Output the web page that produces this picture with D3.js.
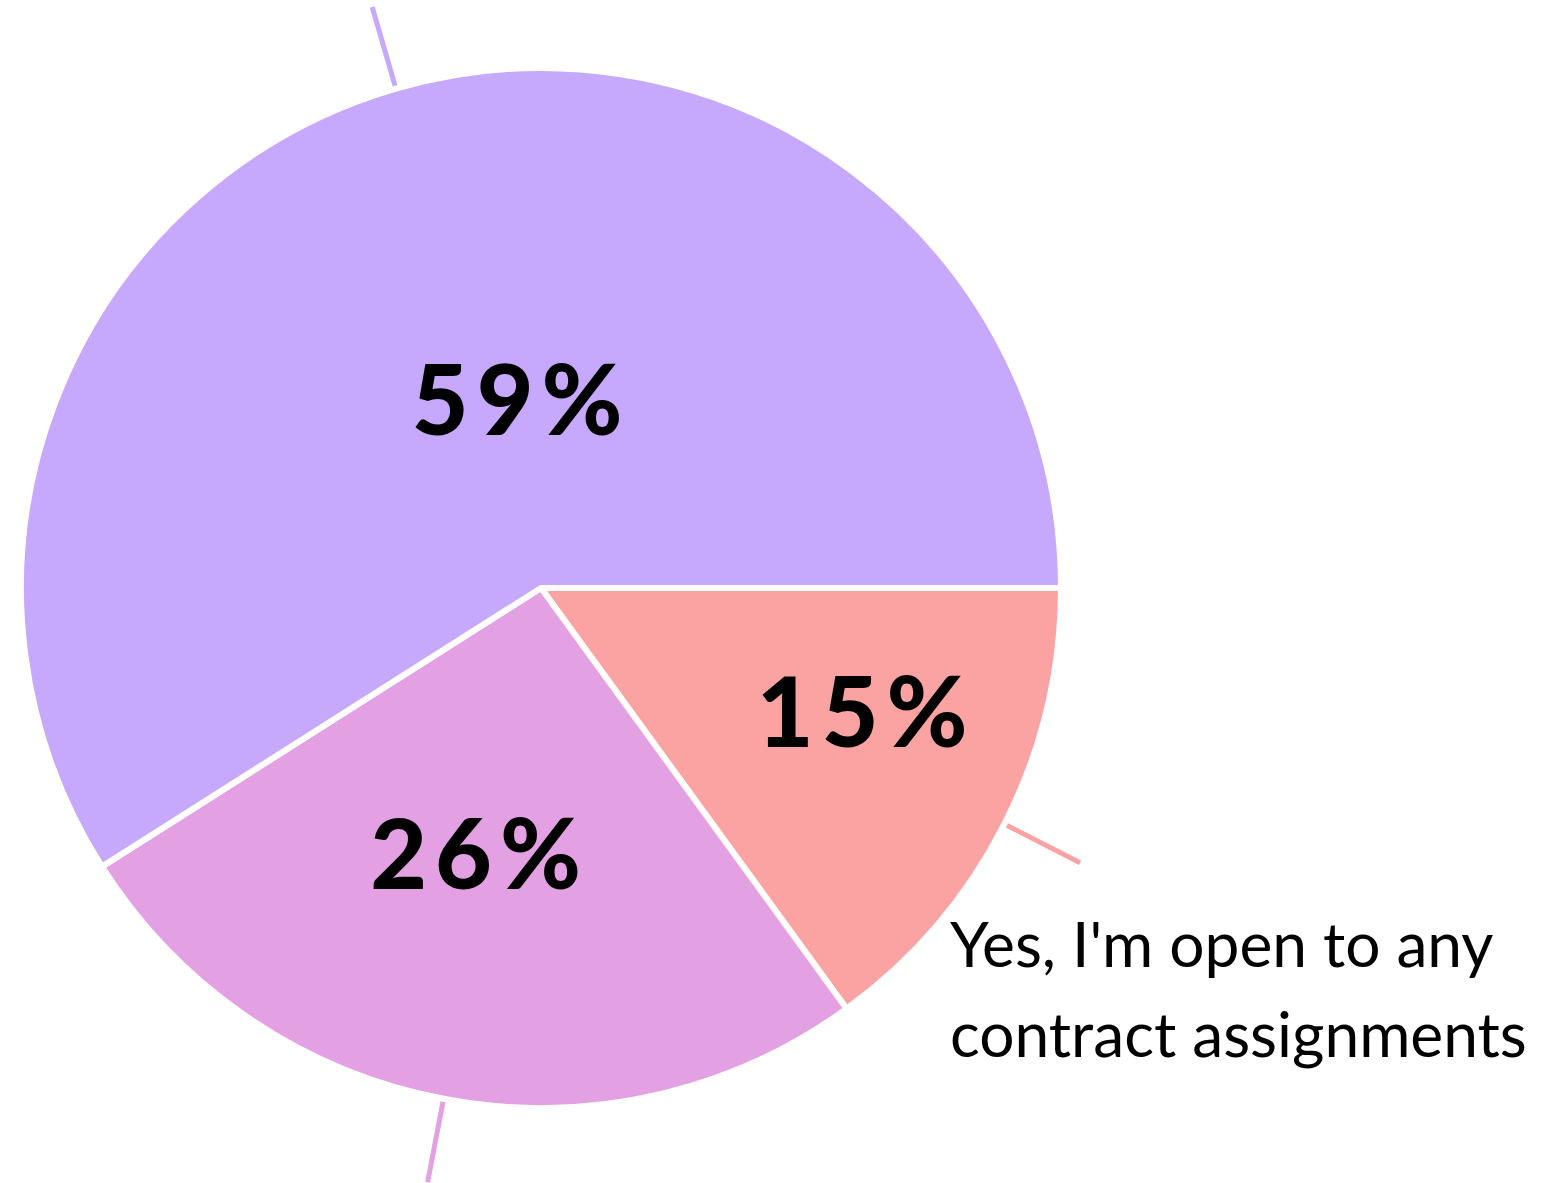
<!DOCTYPE html>
<html>
<head>
<meta charset="utf-8">
<script src="https://cdn.jsdelivr.net/npm/d3@7"></script>
<style>
  html, body { margin: 0; padding: 0; background: #fff; }
  svg { display: block; }
</style>
</head>
<body>
<div id="chart"></div>
<script>
// slice data, clockwise from 3 o'clock
const answers = ["Yes, I'm open to any contract assignments", "other2", "other1"];
const shares = [15, 26, 59];
const sliceColors = ["#fba3a3", "#e3a0e2", "#c6a9fd"];
const labelLines = ["Yes, I'm open to any", "contract assignments"];

const width = 1541;
const height = 1183;
const cx = 541, cy = 588, radius = 520;

// where the percentage labels sit (radius, angle shift in degrees)
const labelPlace = [
    { r: 344, shift: -6 },
    { r: 274, shift: 3 },
    { r: 190, shift: 9 }
];

const svg = d3.select("#chart")
    .append("svg")
    .attr("width", width)
    .attr("height", height);

const g = svg.append("g").attr("transform", `translate(${cx},${cy})`);

const pie = d3.pie()
    .sort(null)
    .value(d => d)
    .startAngle(Math.PI / 2)
    .endAngle(Math.PI / 2 + 2 * Math.PI);

const arcs = pie(shares);

const arc = d3.arc().innerRadius(0).outerRadius(radius);

// leader lines first, under the slices
const mid = d => (d.startAngle + d.endAngle) / 2;
g.selectAll(".leader")
    .data(arcs)
    .enter().append("line")
    .attr("class", "leader")
    .attr("x1", d => Math.sin(mid(d)) * (radius + 2))
    .attr("y1", d => -Math.cos(mid(d)) * (radius + 2))
    .attr("x2", d => Math.sin(mid(d)) * (radius + 85))
    .attr("y2", d => -Math.cos(mid(d)) * (radius + 85))
    .attr("stroke", (d, i) => sliceColors[i])
    .attr("stroke-width", 5);

g.selectAll(".slice")
    .data(arcs)
    .enter().append("path")
    .attr("class", "slice")
    .attr("d", arc)
    .attr("fill", (d, i) => sliceColors[i])
    .attr("stroke", "#fff")
    .attr("stroke-width", 6)
    .attr("stroke-linejoin", "round");

g.selectAll(".pct")
    .data(arcs)
    .enter().append("text")
    .attr("class", "pct")
    .attr("transform", (d, i) => {
        const a = mid(d) + labelPlace[i].shift * Math.PI / 180;
        return `translate(${Math.sin(a) * labelPlace[i].r + 4},${-Math.cos(a) * labelPlace[i].r})`;
    })
    .attr("text-anchor", "middle")
    .attr("dy", "0.36em")
    .style("font-family", "Futura, 'Lato', 'DejaVu Sans', sans-serif")
    .style("font-weight", 900)
    .style("font-size", "98px")
    .style("letter-spacing", "8px")
    .attr("fill", "#000")
    .text(d => d.data + "%");

// outside label of the small slice
const lbl = svg.append("text")
    .attr("y", 967)
    .style("font-family", "Futura, 'Lato', sans-serif")
    .style("font-size", "72px")
    .attr("fill", "#000");
lbl.selectAll("tspan")
    .data(labelLines)
    .enter().append("tspan")
    .attr("x", 950)
    .attr("dy", (d, i) => i ? 90 : 0)
    .text(d => d);

// shrink the label to the width it takes in the original
let widest = 0;
lbl.selectAll("tspan").each(function () {
    widest = Math.max(widest, this.getComputedTextLength());
});
lbl.style("font-size", (72 * 577 / widest) + "px");
</script>
</body>
</html>
